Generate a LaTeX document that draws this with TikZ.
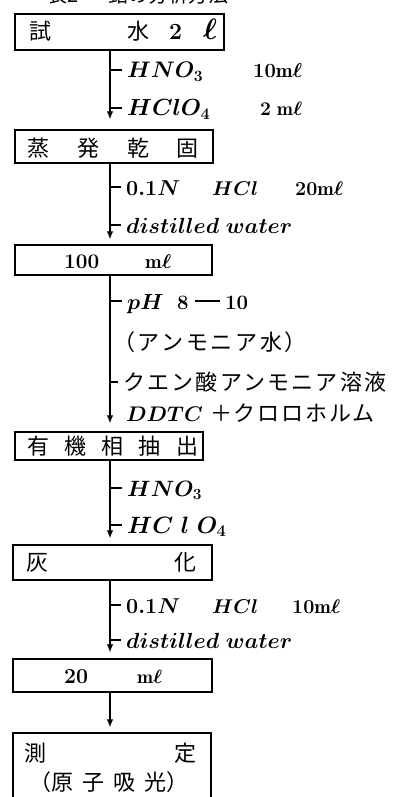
\RequirePackage{fix-cm}
\documentclass[tikz,border=0pt]{standalone}
\usepackage{graphicx}
\usepackage{fontspec}
\DeclareFontShape{OML}{cmm}{m}{it}{<->cmmi10}{}
\DeclareFontShape{OT1}{cmr}{m}{n}{<->cmr10}{}
\newfontfamily\jp{Noto Sans CJK JP}
\usetikzlibrary{arrows.meta}
\newcommand{\fs}{\fontsize{22}{26}\selectfont}
\newcommand{\tfs}{\fontsize{20}{24}\selectfont}
% Latin text fitted to a given width / height, set in bold math to match the heavy print
\newcommand{\W}[2]{\resizebox{#1}{!}{\boldmath$#2$}}
\newcommand{\Hh}[2]{\resizebox{!}{#1}{\boldmath$#2$}}
\newcommand{\ml}{\mathrm{m}\ell}
\begin{document}
\begin{tikzpicture}[x=1pt,y=-1pt,
  box/.style={draw, line width=1.3pt, inner sep=0pt, minimum width=#1},
  txt/.style={anchor=base west, inner sep=0pt, font=\fs},
  flow/.style={line width=1.2pt, -{Latex[length=8pt,width=6.5pt]}},
  tick/.style={line width=1.1pt, shorten >=5pt}]
\useasboundingbox (0,0) rectangle (397,797);

% title (cut off at top, as in the reference)
\node[anchor=base west, inner sep=0pt, font=\tfs\jp] (title) at (47,3) {\makebox[61pt][l]{表2}鉛の分析方法};

% boxes
\node[box=209pt, minimum height=36pt] (b1) at (119.5,32) {};
\node[box=198pt, minimum height=33pt] (b2) at (114,146.5) {};
\node[box=197pt, minimum height=30pt] (b3) at (113.5,260) {};
\node[box=188pt, minimum height=28pt] (b4) at (109,446) {};
\node[box=199pt, minimum height=35pt] (b5) at (112.5,562.5) {};
\node[box=199pt, minimum height=33pt] (b6) at (112.5,675.5) {};
\node[box=198pt, minimum height=82pt] (b7) at (112,774) {};

% box texts
\node[txt] (t1a) at (29,40) {\jp 試};
\node[txt] (t1b) at (127,40) {\jp 水};
\node[txt] (t1c) at (169,40) {\makebox[34pt][l]{\W{13pt}{2}}\W{14pt}{\ell}};
\node[txt] (t2) at (27,156) {\jp 蒸\hspace{28pt}発\hspace{28pt}乾\hspace{27pt}固};
\node[txt] (t3) at (64,268) {\makebox[81pt][l]{\W{35pt}{100}}\W{26pt}{\ml}};
\node[txt] (t4) at (27,454) {\jp 有\hspace{15.25pt}機\hspace{15.25pt}相\hspace{15.25pt}抽\hspace{15.25pt}出};
\node[txt] (t5) at (26,570) {\jp\makebox[148pt][l]{灰}化};
\node[txt] (t6) at (64,683) {\makebox[73pt][l]{\W{24pt}{20}}\W{25pt}{\ml}};
\node[txt] (t7a) at (24,761) {\jp\makebox[150pt][l]{測}定};
\node[txt] (t7b) at (29,790) {\jp （原\hspace{9pt}子\hspace{9pt}吸\hspace{9pt}光）};

% side labels
\node[txt] (l1a) at (127,78) {\makebox[126pt][l]{\Hh{15.4pt}{HNO_3}}\W{49pt}{10\ml}};
\node[txt] (l1b) at (127,116) {\makebox[133pt][l]{\Hh{16.2pt}{HClO_4}}\W{42pt}{2\ \ml}};
\node[txt] (l2a) at (126,195) {\makebox[86pt][l]{\W{54pt}{0.1N}}\makebox[83pt][l]{\W{46pt}{HCl}}\W{48pt}{20\ml}};
\node[txt] (l2b) at (126,233) {\W{166pt}{distilled\ water}};
\node[txt] (l3a) at (127,309) {\makebox[50pt][l]{\Hh{15pt}{pH}}\makebox[18pt][l]{\W{11.5pt}{8}}\rule[7.5pt]{25pt}{1.5pt}\hspace{5pt}\W{23pt}{10}};
\node[txt] (l3b) at (113,350) {\jp\addfontfeature{LetterSpace=12}（アンモニア水）};
\node[txt] (l3c) at (123,390) {\jp\addfontfeature{LetterSpace=10}クエン酸アンモニア溶液};
\node[txt] (l3d) at (126,421) {\makebox[84pt][l]{\Hh{14.5pt}{DDTC}}{\jp\addfontfeature{LetterSpace=8}＋クロロホルム}};
\node[txt] (l4a) at (127,496) {\Hh{15.2pt}{HNO_3}};
\node[txt] (l4b) at (127,533) {\Hh{16.4pt}{HC\;l\;O_4}};
\node[txt] (l5a) at (126,613) {\makebox[86pt][l]{\W{54pt}{0.1N}}\makebox[80pt][l]{\W{46pt}{HCl}}\W{48pt}{10\ml}};
\node[txt] (l5b) at (126,648) {\W{166pt}{distilled\ water}};

% main line
\coordinate (L) at (110,0);
\draw[flow, shorten >=10pt] (b1.south -| L) -- (b2.north -| L);
\draw[flow, shorten >=5pt] (b2.south -| L) -- (b3.north -| L);
\draw[flow, shorten >=8pt] (b3.south -| L) -- (b4.north -| L);
\draw[flow, shorten >=6pt] (b4.south -| L) -- (b5.north -| L);
\draw[flow, shorten >=6pt] (b5.south -| L) -- (b6.north -| L);
\draw[flow, shorten >=5pt] (b6.south -| L) -- (b7.north -| L);

% ticks
\coordinate (k1) at (110,70);
\coordinate (k2) at (110,108);
\coordinate (k3) at (110,187);
\coordinate (k4) at (110,225);
\coordinate (k5) at (110,301);
\coordinate (k6) at (110,382);
\coordinate (k7) at (110,488);
\coordinate (k8) at (110,525);
\coordinate (k9) at (110,605);
\coordinate (k10) at (110,640);
\draw[tick] (k1) -- (k1 -| l1a.west);
\draw[tick] (k2) -- (k2 -| l1b.west);
\draw[tick] (k3) -- (k3 -| l2a.west);
\draw[tick] (k4) -- (k4 -| l2b.west);
\draw[tick] (k5) -- (k5 -| l3a.west);
\draw[tick] (k6) -- (k6 -| l3c.west);
\draw[tick] (k7) -- (k7 -| l4a.west);
\draw[tick] (k8) -- (k8 -| l4b.west);
\draw[tick] (k9) -- (k9 -| l5a.west);
\draw[tick] (k10) -- (k10 -| l5b.west);
\end{tikzpicture}
\end{document}
